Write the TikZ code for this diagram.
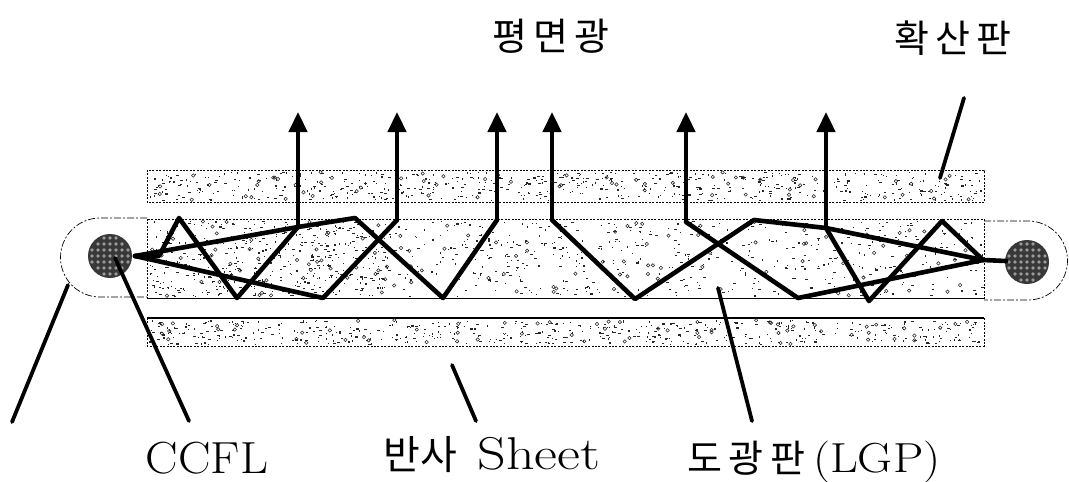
\documentclass[tikz,border=0pt]{standalone}
\usepackage{fontspec}
\newfontfamily\kr{Noto Sans CJK KR}
\usetikzlibrary{arrows.meta}
\tikzset{
  ray/.style={line width=4.6pt,line join=round,line cap=round},
  rayup/.style={line width=4.6pt,-{Triangle[width=18pt,length=20pt]}},
  leader/.style={line width=3.8pt,line cap=round},
  plate/.style={line width=0.8pt,dash pattern=on 2pt off 1.4pt},
  housing/.style={line width=0.7pt,dash pattern=on 7pt off 2pt on 2pt off 2pt},
  lamp/.style={circle,draw=none,fill=black!78,minimum size=44pt,inner sep=0pt},
  lbl/.style={inner sep=0pt,anchor=base},
  krlbl/.style={inner sep=0pt,anchor=center,font=\kr\fontsize{38}{38}\selectfont}
}
\newcommand{\speckle}[6]{% x0 y0 x1 y1 n seed
  \pgfmathsetseed{#6}
  \foreach \i in {1,...,#5}{
    \pgfmathsetmacro{\px}{#1+rnd*(#3-#1)}
    \pgfmathsetmacro{\py}{#2+rnd*(#4-#2)}
    \pgfmathsetmacro{\kind}{rnd}
    \ifdim\kind pt<0.68pt
      \fill[black!85] (\px,\py) rectangle ++(1.3,1.3);
    \else
      \ifdim\kind pt<0.9pt
        \fill[black!85] (\px,\py) rectangle ++(3,1.1);
      \else
        \draw[black!85,line width=0.55pt] (\px,\py) circle (1.7);
      \fi
    \fi
  }
}
\begin{document}
\begin{tikzpicture}[x=1pt,y=-1pt]
\useasboundingbox (0,0) rectangle (1069,482);
% plates
\draw[plate] (147,170) rectangle (984,202);
\draw[plate] (147,219) rectangle (984,298);
\draw[plate] (147,318) rectangle (984,346);
\draw[line width=1.2pt] (147,298.5) -- (984,298.5);
\draw[line width=1.2pt] (147,318) -- (984,318);
\speckle{149}{172}{982}{200}{620}{11}
\speckle{149}{221}{400}{296}{520}{23}
\speckle{400}{221}{620}{296}{230}{37}
\speckle{620}{221}{982}{296}{320}{41}
\speckle{149}{320}{982}{344}{560}{53}
% housing
\draw[housing] (147,218) -- (100,218) arc[start angle=-90,end angle=-270,radius=39.5] -- (147,297);
\draw[housing] (984,221) -- (1028,221) arc[start angle=-90,end angle=90,radius=39.5] -- (984,300);
% lamps
\node[lamp] (lampL) at (110,256) {};
\node[lamp] (lampR) at (1027,262) {};
\foreach \x in {-18,-12,...,18}{\foreach \y in {-18,-12,...,18}{
  \pgfmathparse{\x*\x+\y*\y<400?1:0}
  \ifnum\pgfmathresult=1
    \draw[white,line width=.4pt] (110+\x,256+\y) circle (1.3);
    \draw[white,line width=.4pt] (1027+\x,262+\y) circle (1.3);
  \fi}}
% ray points
\coordinate (s1) at (135,256);
\coordinate (a1) at (159,256);
\coordinate (a2) at (179,218);
\coordinate (a3) at (237,298);
\coordinate (a4) at (298,227);
\coordinate (b1) at (355,218);
\coordinate (b2) at (443,298);
\coordinate (b3) at (497,220);
\coordinate (c1) at (323,298);
\coordinate (c2) at (397,220);
\coordinate (d1) at (552,220);
\coordinate (d2) at (635,299);
\coordinate (d3) at (754,220);
\coordinate (e1) at (686,222);
\coordinate (e2) at (798,298);
\coordinate (f1) at (826,228);
\coordinate (f2) at (869,301);
\coordinate (f3) at (942,221);
\coordinate (s2) at (983,260);
\coordinate (s3) at (1006,261);
\coordinate (t1) at (298,112);
\coordinate (t2) at (397,112);
\coordinate (t3) at (497,112);
\coordinate (t4) at (552,112);
\coordinate (t5) at (686,112);
\coordinate (t6) at (826,112);
% rays
\draw[ray] (s1) -- (a1) -- (a2) -- (a3) -- (a4);
\draw[ray] (s1) -- (a4) -- (b1) -- (b2) -- (b3);
\draw[ray] (s1) -- (c1) -- (c2);
\draw[ray] (d1) -- (d2) -- (d3) -- (f1) -- (s2) -- (s3);
\draw[ray] (e1) -- (e2) -- (s2);
\draw[ray] (f1) -- (f2) -- (f3) -- (s2);
\draw[rayup] (a4) -- (t1);
\draw[rayup] (c2) -- (t2);
\draw[rayup] (b3) -- (t3);
\draw[rayup] (d1) -- (t4);
\draw[rayup] (e1) -- (t5);
\draw[rayup] (f1) -- (t6);
% leaders
\coordinate (l1a) at (68,285);
\coordinate (l1b) at (12,422);
\coordinate (l2a) at (115,258);
\coordinate (l2b) at (189,421);
\coordinate (l3a) at (452,365);
\coordinate (l3b) at (476,421);
\coordinate (l4a) at (718,288);
\coordinate (l4b) at (752,421);
\coordinate (l5a) at (964,98);
\coordinate (l5b) at (940,178);
\draw[leader] (l1a) -- (l1b);
\draw[leader] (l2a) -- (l2b);
\draw[leader] (l3a) -- (l3b);
\draw[leader] (l4a) -- (l4b);
\draw[leader] (l5a) -- (l5b);
% labels
\node[krlbl] (pm) at (551,36) {평\,면\,광};
\node[krlbl] (hs) at (953,38) {확\,산\,판};
\node[lbl,font=\fontsize{45}{45}\selectfont] (ccfl) at (207,473) {\scalebox{1.08}[1]{CCFL}};
\node[lbl,font=\fontsize{46}{46}\selectfont] (bs) at (492,469) {{\kr\fontsize{40}{40}\selectfont 반사}\hspace{20pt}\scalebox{1.22}[1]{Sheet}};
\node[lbl,font=\fontsize{42}{42}\selectfont] (lgp) at (814,472) {{\kr\fontsize{38}{38}\selectfont 도\,광\,판}\hspace{8pt}\scalebox{1.15}[1]{(LGP)}};
\end{tikzpicture}
\end{document}
